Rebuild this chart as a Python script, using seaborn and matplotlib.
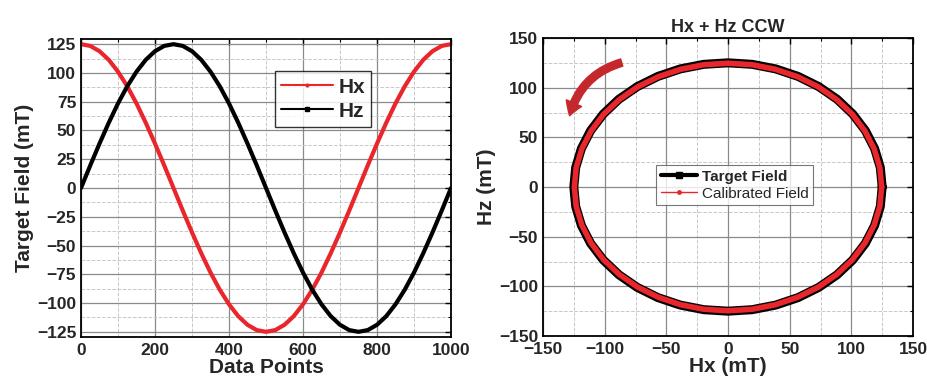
import seaborn as sns
import matplotlib.pyplot as plt
import pandas as pd
from matplotlib.ticker import MultipleLocator
from matplotlib.lines import Line2D

# data (every 25 data points)
points = list(range(0, 1001, 25))
hx = [125.0, 123.5, 118.9, 111.4, 101.1, 88.4, 73.5, 56.7, 38.6, 19.6,
      0.0, -19.6, -38.6, -56.7, -73.5, -88.4, -101.1, -111.4, -118.9, -123.5,
      -125.0, -123.5, -118.9, -111.4, -101.1, -88.4, -73.5, -56.7, -38.6, -19.6,
      0.0, 19.6, 38.6, 56.7, 73.5, 88.4, 101.1, 111.4, 118.9, 123.5, 125.0]
hz = [0.0, 19.6, 38.6, 56.7, 73.5, 88.4, 101.1, 111.4, 118.9, 123.5,
      125.0, 123.5, 118.9, 111.4, 101.1, 88.4, 73.5, 56.7, 38.6, 19.6,
      0.0, -19.6, -38.6, -56.7, -73.5, -88.4, -101.1, -111.4, -118.9, -123.5,
      -125.0, -123.5, -118.9, -111.4, -101.1, -88.4, -73.5, -56.7, -38.6, -19.6, 0.0]
# calibrated field lies right on the target loop
hx_cal = [124.6, 123.1, 118.5, 111.0, 100.8, 88.1, 73.3, 56.5, 38.5, 19.5,
          0.0, -19.5, -38.5, -56.5, -73.3, -88.1, -100.8, -111.0, -118.5, -123.1,
          -124.6, -123.1, -118.5, -111.0, -100.8, -88.1, -73.3, -56.5, -38.5, -19.5,
          0.0, 19.5, 38.5, 56.5, 73.3, 88.1, 100.8, 111.0, 118.5, 123.1, 124.6]
hz_cal = [0.0, 19.5, 38.5, 56.5, 73.3, 88.1, 100.8, 111.0, 118.5, 123.1,
          124.6, 123.1, 118.5, 111.0, 100.8, 88.1, 73.3, 56.5, 38.5, 19.5,
          0.0, -19.5, -38.5, -56.5, -73.3, -88.1, -100.8, -111.0, -118.5, -123.1,
          -124.6, -123.1, -118.5, -111.0, -100.8, -88.1, -73.3, -56.5, -38.5, -19.5, 0.0]

df = pd.DataFrame({'n': points, 'Hx': hx, 'Hz': hz, 'Hx_cal': hx_cal, 'Hz_cal': hz_cal})

sns.set_theme(style="white")
plt.rcParams['font.family'] = ['Liberation Sans', 'DejaVu Sans']
plt.rcParams['axes.edgecolor'] = 'black'
plt.rcParams['axes.linewidth'] = 1.3
plt.rcParams['lines.solid_joinstyle'] = 'round'
plt.rcParams['lines.solid_capstyle'] = 'round'

RED = '#e8262b'

fig = plt.figure(figsize=(9.27, 3.83), dpi=100)
ax1 = fig.add_axes([81/927, 1-337/383, 370/927, 298/383])
ax2 = fig.add_axes([543/927, 1-336/383, 370/927, 298/383])


def style_axes(ax, xmaj, xmin, ymaj, ymin):
    ax.xaxis.set_major_locator(MultipleLocator(xmaj))
    ax.xaxis.set_minor_locator(MultipleLocator(xmin))
    ax.yaxis.set_major_locator(MultipleLocator(ymaj))
    ax.yaxis.set_minor_locator(MultipleLocator(ymin))
    ax.grid(which='major', color='#8a8a8a', lw=0.9, ls='-')
    ax.grid(which='minor', color='#c8c8c8', lw=0.7, ls='--')
    ax.set_axisbelow(True)
    ax.tick_params(which='both', direction='in', top=True, right=True,
                   color='black', labelsize=12.5)
    ax.tick_params(axis='x', which='major', pad=4)
    ax.tick_params(which='major', length=4, width=1)
    ax.tick_params(which='minor', length=2, width=0.8)
    for lab in ax.get_xticklabels() + ax.get_yticklabels():
        lab.set_fontweight('bold')
    for s in ax.spines.values():
        s.set_visible(True)


# left: time traces
sns.lineplot(data=df, x='n', y='Hx', ax=ax1, color=RED, lw=3, sort=False,
             estimator=None, legend=False)
sns.lineplot(data=df, x='n', y='Hz', ax=ax1, color='black', lw=3, sort=False,
             estimator=None, legend=False)
ax1.set_xlim(0, 1000)
ax1.set_ylim(-129.5, 129.5)
style_axes(ax1, 200, 100, 25, 12.5)
ax1.set_xlabel('Data Points', fontsize=15, fontweight='bold', labelpad=0)
ax1.set_ylabel('Target Field (mT)', fontsize=15, fontweight='bold', labelpad=2)
h1 = [Line2D([], [], color=RED, lw=1.5, marker='o', markersize=2),
      Line2D([], [], color='black', lw=1.5, marker='s', markersize=3)]
leg1 = ax1.legend(h1, ['Hx', 'Hz'], loc='upper left', bbox_to_anchor=(0.524, 0.893),
                  borderaxespad=0,
                  prop={'weight': 'bold', 'size': 15}, frameon=True, fancybox=False,
                  edgecolor='black', handlelength=2.5, handletextpad=0.25,
                  borderpad=0.3, labelspacing=0.2, handleheight=0.9)
leg1.get_frame().set_linewidth(1.0)

# right: Hx vs Hz loop
sns.lineplot(data=df, x='Hx', y='Hz', ax=ax2, color='black', lw=6.5,
             sort=False, estimator=None, legend=False)
sns.lineplot(data=df, x='Hx_cal', y='Hz_cal', ax=ax2, color=RED, lw=4,
             sort=False, estimator=None, legend=False)
ax2.set_xlim(-150, 150)
ax2.set_ylim(-150, 150)
style_axes(ax2, 50, 25, 50, 25)
ax2.set_xlabel('Hx (mT)', fontsize=15, fontweight='bold', labelpad=0)
ax2.set_ylabel('Hz (mT)', fontsize=15, fontweight='bold', labelpad=2)
ax2.set_title('Hx + Hz CCW', fontsize=13, fontweight='bold', pad=4)
h2 = [Line2D([], [], color='black', lw=3, marker='s', markersize=5),
      Line2D([], [], color=RED, lw=1, marker='o', markersize=2.5)]
leg2 = ax2.legend(h2, ['Target Field', 'Calibrated Field'], loc='upper left',
                  bbox_to_anchor=((656-543)/370, 1-(165-38)/298), borderaxespad=0,
                  prop={'size': 11}, frameon=True, fancybox=False,
                  edgecolor='#555555', handlelength=2.4, handletextpad=0.3,
                  borderpad=0.3, labelspacing=0.2)
leg2.get_texts()[0].set_fontweight('bold')
leg2.get_frame().set_linewidth(0.8)

ax2.annotate('', xy=(-129, 69), xytext=(-84, 126),
             arrowprops=dict(arrowstyle='simple,head_length=0.8,head_width=1.0,tail_width=0.45',
                             color='#c4282c', connectionstyle='arc3,rad=0.3'))

fig.savefig('out.png', dpi=100)
